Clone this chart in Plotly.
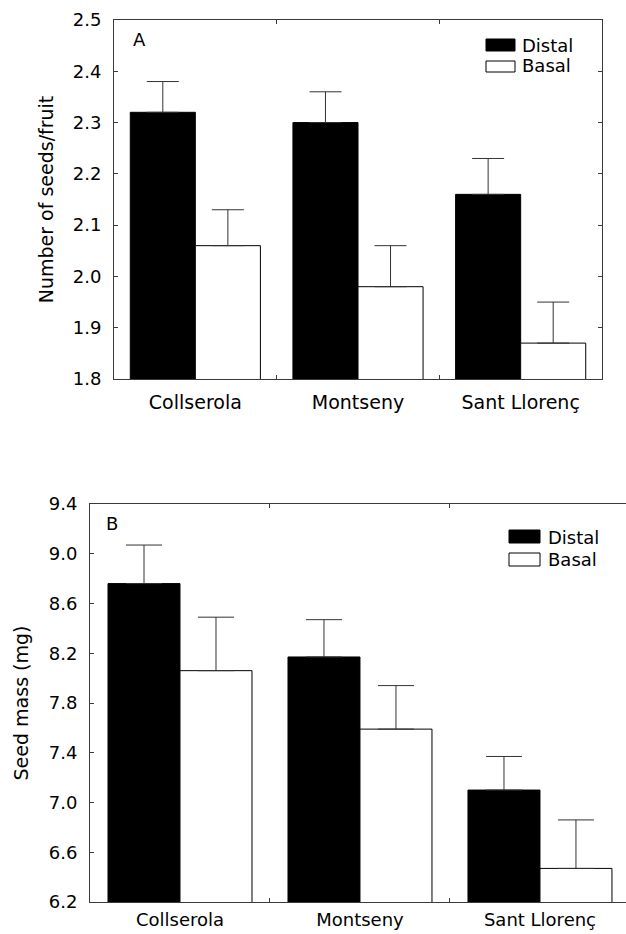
import plotly.graph_objects as go

W, H = 626, 934

sites = ["Collserola", "Montseny", "Sant Llorenç"]

# Panel A: number of seeds per fruit
seeds_distal = [2.32, 2.30, 2.16]
seeds_distal_err = [0.06, 0.06, 0.07]
seeds_basal = [2.06, 1.98, 1.87]
seeds_basal_err = [0.07, 0.08, 0.08]
seeds_ticks = [1.8, 1.9, 2.0, 2.1, 2.2, 2.3, 2.4, 2.5]

# Panel B: seed mass (mg)
mass_distal = [8.76, 8.17, 7.10]
mass_distal_err = [0.31, 0.30, 0.27]
mass_basal = [8.06, 7.59, 6.47]
mass_basal_err = [0.43, 0.35, 0.39]
mass_ticks = [6.2, 6.6, 7.0, 7.4, 7.8, 8.2, 8.6, 9.0, 9.4]

FONT = "DejaVu Sans"
AX = "#3a3a3a"


def px(x):
    return x / W


def py(y):
    return 1 - y / H


def bar(xs, ys, err, fill, xa, ya, cap):
    return go.Bar(
        x=xs, y=ys, xaxis=xa, yaxis=ya,
        marker=dict(color=fill, line=dict(color="black", width=1)),
        error_y=dict(type="data", symmetric=False, array=err,
                     arrayminus=[0] * len(err), color="#333",
                     thickness=1, width=cap),
        showlegend=False, hoverinfo="skip",
    )


fig = go.Figure()
fig.add_trace(bar(sites, seeds_distal, seeds_distal_err, "black", "x", "y", 16))
fig.add_trace(bar(sites, seeds_basal, seeds_basal_err, "white", "x", "y", 16))
fig.add_trace(bar(sites, mass_distal, mass_distal_err, "black", "x2", "y2", 18))
fig.add_trace(bar(sites, mass_basal, mass_basal_err, "white", "x2", "y2", 18))

common_x = dict(type="category", showline=True, linecolor=AX, linewidth=1,
                ticks="inside", tickson="boundaries", ticklen=4, tickcolor=AX,
                showgrid=False, zeroline=False, automargin=False)
common_y = dict(showline=True, linecolor=AX, linewidth=1,
                ticks="inside", ticklen=4, tickcolor=AX,
                showgrid=False, zeroline=False, automargin=False,
                tickfont=dict(family=FONT, size=18, color="black"),
                ticklabelstandoff=8)

fig.update_layout(
    width=W, height=H,
    margin=dict(l=0, r=0, t=0, b=0, autoexpand=False),
    paper_bgcolor="white", plot_bgcolor="white",
    barmode="group", bargap=0.2, bargroupgap=0,
    font=dict(family=FONT, color="black"),
    xaxis=dict(common_x, domain=[px(114), px(602)], anchor="y",
               range=[-0.5, 2.5], mirror="ticks",
               tickfont=dict(family=FONT, size=19, color="black"),
               ticklabelstandoff=6),
    yaxis=dict(common_y, domain=[py(379), py(20)], anchor="x",
               range=[1.8, 2.5], tickvals=seeds_ticks,
               ticktext=[f"{v:.1f}" for v in seeds_ticks], mirror="ticks",
               title=dict(text="Number of seeds/fruit",
                          font=dict(family=FONT, size=19), standoff=14)),
    xaxis2=dict(common_x, domain=[px(90), 1.0], anchor="y2",
                range=[-0.5, 2.478], mirror="ticks",
                tickfont=dict(family=FONT, size=18, color="black"),
                ticklabelstandoff=1),
    yaxis2=dict(common_y, domain=[py(902), py(504)], anchor="x2",
                range=[6.2, 9.4], tickvals=mass_ticks,
                ticktext=[f"{v:.1f}" for v in mass_ticks], mirror=False,
                title=dict(text="Seed mass (mg)",
                           font=dict(family=FONT, size=19), standoff=15)),
)

shapes = []
annotations = []


def legend_entry(x0, x1, y0, y1, fill, label, tx, ty):
    shapes.append(dict(type="rect", xref="paper", yref="paper",
                       x0=px(x0), x1=px(x1), y0=py(y1), y1=py(y0),
                       fillcolor=fill, line=dict(color="black", width=1)))
    annotations.append(dict(xref="paper", yref="paper", x=px(tx), y=py(ty),
                            xanchor="left", yanchor="middle", text=label,
                            showarrow=False,
                            font=dict(family=FONT, size=18, color="black")))


legend_entry(486, 515, 39, 51, "black", "Distal", 520, 45)
legend_entry(486, 515, 61, 72, "white", "Basal", 520, 66)
legend_entry(509, 540, 530, 543, "black", "Distal", 546, 537)
legend_entry(509, 540, 553, 566, "white", "Basal", 546, 559)

annotations.append(dict(xref="paper", yref="paper", x=px(131), y=py(40),
                        xanchor="left", yanchor="middle", text="A",
                        showarrow=False,
                        font=dict(family=FONT, size=18, color="black")))
annotations.append(dict(xref="paper", yref="paper", x=px(104), y=py(523),
                        xanchor="left", yanchor="middle", text="B",
                        showarrow=False,
                        font=dict(family=FONT, size=18, color="black")))

fig.update_layout(shapes=shapes, annotations=annotations)

fig.write_html(
    "out.html",
    config={"displayModeBar": False},
    post_script="document.body.style.margin='0';"
                "document.body.style.overflow='hidden';",
)
